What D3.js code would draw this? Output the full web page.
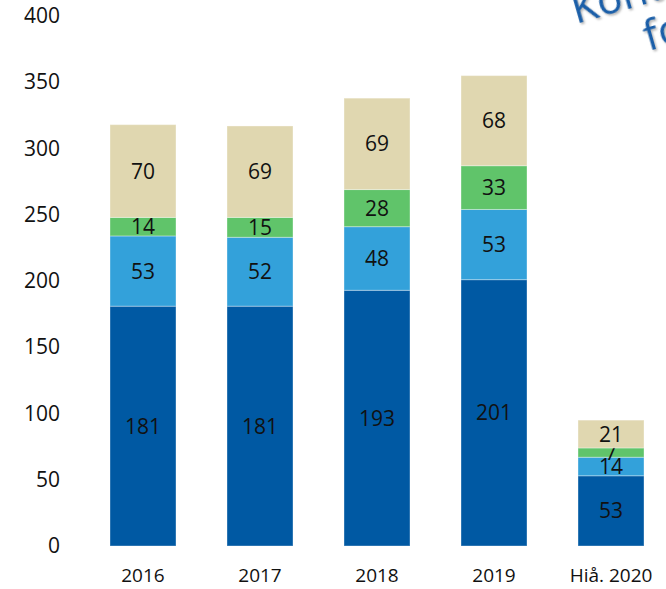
<!DOCTYPE html>
<html>
<head>
<meta charset="utf-8">
<script src="https://cdn.jsdelivr.net/npm/d3@7"></script>
<style>
  body { margin: 0; background: #fff; overflow: hidden; }
  svg { display: block; font-family: "Open Sans", "Noto Sans", sans-serif; }
</style>
</head>
<body>
<div id="chart"></div>
<script>
var years = ["2016", "2017", "2018", "2019", "Hiå. 2020"];
var series1 = [181, 181, 193, 201, 53];
var series2 = [53, 52, 48, 53, 14];
var series3 = [14, 15, 28, 33, 7];
var series4 = [70, 69, 69, 68, 21];
var yTicks = [0, 50, 100, 150, 200, 250, 300, 350, 400];

var colors = ["#0059a3", "#33a1da", "#60c46a", "#e0d7b0"];

var width = 666, height = 589;
var margin = {top: 16, right: 22, bottom: 43, left: 110};

var rows = years.map(function(y, i) {
    return {year: y, s1: series1[i], s2: series2[i], s3: series3[i], s4: series4[i]};
});
var keys = ["s1", "s2", "s3", "s4"];
var stacked = d3.stack().keys(keys)(rows);

var x = d3.scaleBand().domain(years)
    .range([margin.left, width - margin.right])
    .paddingInner(0.436).paddingOuter(0);
var y = d3.scaleLinear().domain([0, 400]).range([height - margin.bottom, margin.top]);

var svg = d3.select("#chart").append("svg")
    .attr("width", width)
    .attr("height", height);

// y axis labels only
var yAxis = svg.append("g")
    .attr("transform", "translate(60,0)")
    .call(d3.axisLeft(y).tickValues(yTicks).tickSize(0).tickPadding(0));
yAxis.select(".domain").remove();
yAxis.selectAll("text")
    .style("font-size", "21px")
    .style("font-family", "'Open Sans', sans-serif")
    .attr("fill", "#111");

// x axis labels
var xAxis = svg.append("g")
    .attr("transform", "translate(0," + (height - margin.bottom) + ")")
    .call(d3.axisBottom(x).tickSize(0).tickPadding(23));
xAxis.select(".domain").remove();
xAxis.selectAll("text")
    .style("font-size", "19px")
    .style("font-family", "'Open Sans', sans-serif")
    .attr("fill", "#111");

var layers = svg.selectAll(".layer")
    .data(stacked)
    .enter().append("g")
    .attr("class", "layer")
    .attr("fill", function(d, i) { return colors[i]; });

layers.selectAll("rect")
    .data(function(d) { return d; })
    .enter().append("rect")
    .attr("x", function(d) { return x(d.data.year); })
    .attr("width", x.bandwidth())
    .attr("y", function(d) { return y(d[1]); })
    .attr("height", function(d) { return y(d[0]) - y(d[1]); })
    .attr("stroke", "#ffffff")
    .attr("stroke-opacity", 0.35)
    .attr("stroke-width", 1);

layers.selectAll("text")
    .data(function(d) { return d; })
    .enter().append("text")
    .attr("x", function(d) { return x(d.data.year) + x.bandwidth() / 2; })
    .attr("y", function(d) { return (y(d[0]) + y(d[1])) / 2; })
    .attr("dy", "0.36em")
    .attr("text-anchor", "middle")
    .attr("fill", "#111")
    .style("font-size", "21px")
    .text(function(d) { return d[1] - d[0]; });

// cut-off slide title overlapping the top right corner
var title = svg.append("g")
    .attr("transform", "translate(576,24) rotate(-16)")
    .attr("fill", "#1a5ea8")
    .style("font-size", "42px")
    .style("filter", "drop-shadow(1px 2px 1px rgba(0,0,0,0.3))");
title.append("text").attr("x", 0).attr("y", 0).text("Kontroller");
title.append("text").attr("x", 62).attr("y", 46).text("for");
</script>
</body>
</html>
